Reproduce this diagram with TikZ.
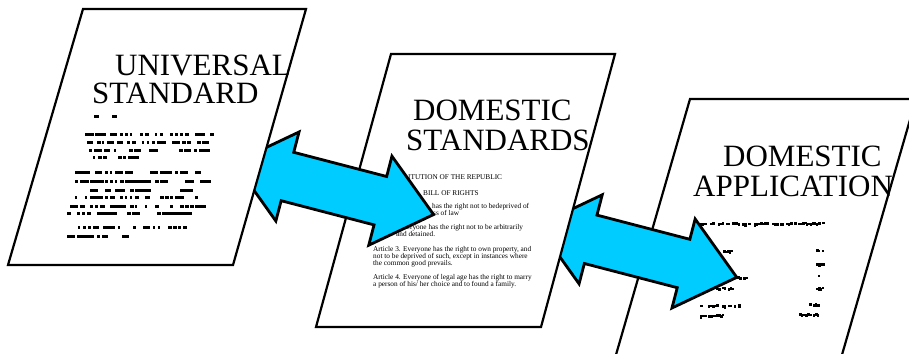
\documentclass[tikz,border=0pt]{standalone}
\usepackage{fontspec}
\setmainfont{Liberation Serif}
\usetikzlibrary{positioning}

\definecolor{arrowcyan}{RGB}{0,204,255}

\tikzset{
  docpage/.style={draw, fill=white, line width=2.2pt, line join=miter},
  blockarrow/.style={draw, fill=arrowcyan, line width=2.8pt, line join=miter},
  doctitle/.style={anchor=base west, inner sep=0pt, font=\fontsize{31}{31}\selectfont},
  smalltext/.style={anchor=base west, inner sep=0pt, font=\fontsize{7.3}{7}\selectfont},
}

\begin{document}
\begin{tikzpicture}[x=1pt, y=-1pt]

  % Parameters
  \def\alen{103}     % half length of a block arrow
  \def\aneck{48}     % where the heads start
  \def\ashaft{25}    % half width of the shaft
  \def\ahead{46}     % half width of the heads
  \def\atilt{-14.6}  % tilt of both arrows

  \useasboundingbox (0,0) rectangle (909,353);
  \clip (0,0) rectangle (909,353);
  \pgfmathsetseed{11}

  % Third page (under everything else)
  \draw[docpage] (690,99) -- (916,99) -- (837,372) -- (611,372) -- cycle;
  \node[doctitle] (app1) at (723,166) {DOMESTIC};
  \node[doctitle] (app2) at (693,196) {APPLICATION};

  % blurred print on the third page
  \foreach \xa/\xb/\yy in {698/823/222, 723/732/250, 735/745/276, 700/733/287,
      700/738/304, 700/722/314, 816/823/249, 816/823/262, 816/823/274,
      816/823/287, 807/820/303, 797/818/313}{
    \pgfmathtruncatemacro\nn{(\xb-\xa)/2}
    \foreach \k in {0,...,\nn}{
      \pgfmathsetmacro\keep{rnd}
      \ifdim\keep pt>0.25pt
        \fill ({\xa+2*\k},\yy+1.5*rnd) rectangle ++({1.5+2*rnd},{2+1.5*rnd});
      \fi
    }
  }

  % Arrow between second and third page
  \begin{scope}[shift={(637.1,251.4)}, rotate=\atilt]
    \draw[blockarrow] (-\alen,0) -- (-\aneck,-\ahead) -- (-\aneck,-\ashaft)
      -- (\aneck,-\ashaft) -- (\aneck,-\ahead) -- (\alen,0)
      -- (\aneck,\ahead) -- (\aneck,\ashaft) -- (-\aneck,\ashaft)
      -- (-\aneck,\ahead) -- cycle;
  \end{scope}

  % Second page
  \draw[docpage] (391,54) -- (615,54) -- (541,327) -- (316,327) -- cycle;
  \node[doctitle] (dom1) at (413,120.5) {DOMESTIC};
  \node[doctitle] (dom2) at (406,150) {STANDARDS};

  \node[smalltext] (rep)   at (408,179) {ITUTION OF THE REPUBLIC};
  \node[smalltext] (bill)  at (423,195) {BILL OF RIGHTS};
  \node[smalltext] (art1a) at (432,208) {has the right not to bedeprived of};
  \node[smalltext] (art1b) at (433,215) {ss of law};
  \node[smalltext] (art2a) at (403,229) {veryone has the right not to be arbitrarily};
  \node[smalltext] (art2b) at (396,236) {and detained.};
  \node[smalltext] (art3a) at (373,251) {Article 3. Everyone has the right to own property, and};
  \node[smalltext] (art3b) at (373,258) {not to be deprived of such, except in instances where};
  \node[smalltext] (art3c) at (373,265) {the common good prevails.};
  \node[smalltext] (art4a) at (373,279.5) {Article 4. Everyone of legal age has the right to marry};
  \node[smalltext] (art4b) at (373,286.5) {a person of his/ her choice and to found a family.};

  % Arrow between first and second page
  \begin{scope}[shift={(333.9,188.6)}, rotate=\atilt]
    \draw[blockarrow] (-\alen,0) -- (-\aneck,-\ahead) -- (-\aneck,-\ashaft)
      -- (\aneck,-\ashaft) -- (\aneck,-\ahead) -- (\alen,0)
      -- (\aneck,\ahead) -- (\aneck,\ashaft) -- (-\aneck,\ashaft)
      -- (-\aneck,\ahead) -- cycle;
  \end{scope}

  % First page (on top)
  \draw[docpage] (83,9) -- (306,9) -- (233,265) -- (8,265) -- cycle;
  \node[doctitle] (univ1) at (115,75) {UNIVERSAL};
  \node[doctitle] (univ2) at (92,103) {STANDARD};

  % blurred print on the first page
  \foreach \xa/\xb/\yy in {89/98/115, 112/119/115, 85/215/133, 82/203/141,
      89/207/149, 93/137/156, 75/203/171, 75/207/180, 70/198/189, 70/198/196,
      70/203/205, 67/188/212, 78/192/226, 67/123/235}{
    \pgfmathtruncatemacro\nn{(\xb-\xa)/5}
    \foreach \k in {0,...,\nn}{
      \pgfmathsetmacro\keep{rnd}
      \ifdim\keep pt>0.35pt
        \fill ({\xa+5*\k},\yy) rectangle ++({2+5*rnd},2.8);
      \fi
    }
  }

\end{tikzpicture}
\end{document}
